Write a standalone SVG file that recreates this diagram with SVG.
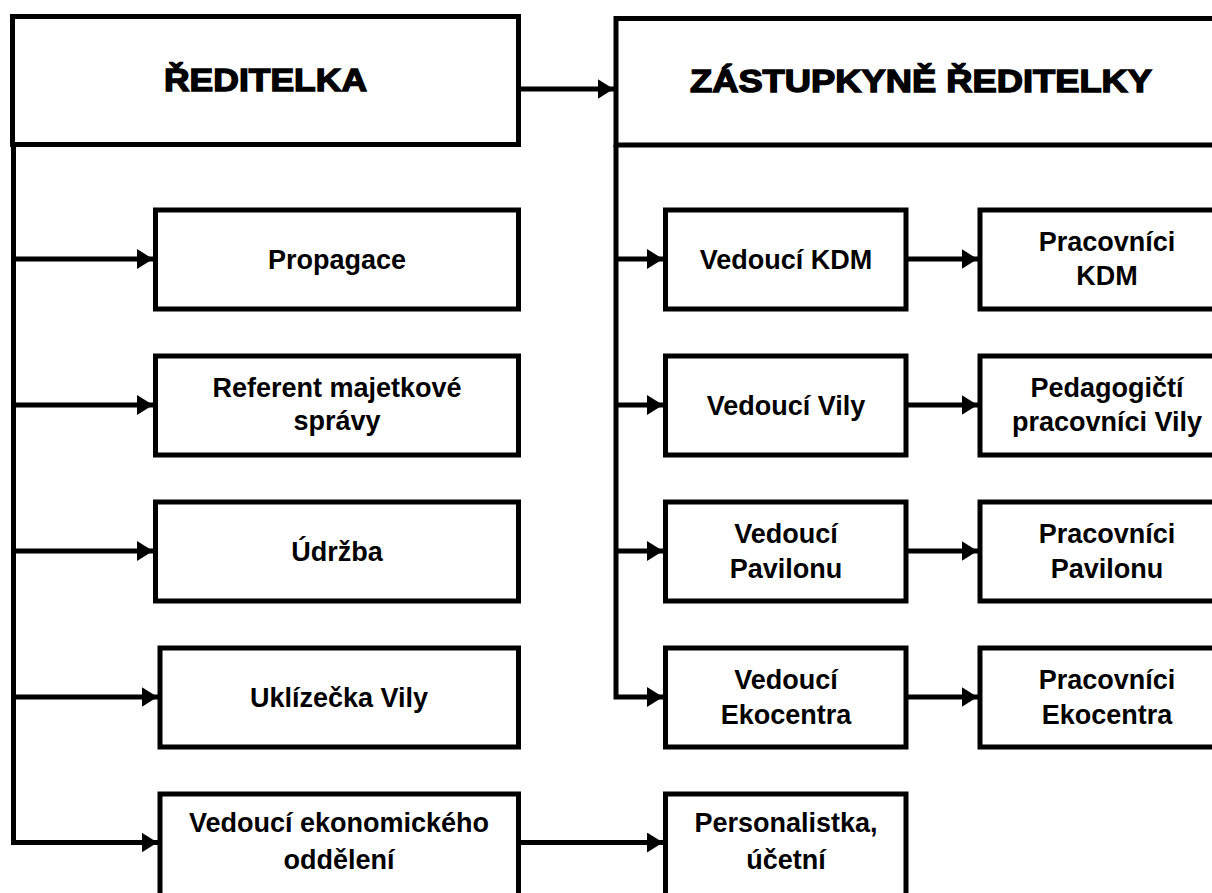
<svg xmlns="http://www.w3.org/2000/svg" width="1212" height="893" viewBox="0 0 1212 893">
<style>
.box{fill:#fff;stroke:#000;stroke-width:5;stroke-linejoin:miter}
.t{font-family:"Liberation Sans",Arial,sans-serif;font-weight:bold;font-size:27px;fill:#000;text-anchor:middle}
.title{font-family:"Liberation Sans",Arial,sans-serif;font-weight:bold;font-size:32px;fill:#000;stroke:#000;stroke-width:1.4;text-anchor:middle}
.ln{fill:none;stroke:#000;stroke-width:5;stroke-linejoin:miter;stroke-linecap:butt}
</style>
<defs>
<marker id="ah" markerUnits="userSpaceOnUse" markerWidth="20" markerHeight="20" refX="18.5" refY="10" orient="auto">
<path d="M0,0 L16,10 L0,20 z" fill="#000"/>
</marker>
</defs>
<rect width="1212" height="893" fill="#fff"/>
<g id="connectors">
<polyline class="ln" points="13.5,144.5 13.5,842.5 160,842.5" marker-end="url(#ah)"/>
<line class="ln" x1="13.5" y1="259" x2="155.5" y2="259" marker-end="url(#ah)"/>
<line class="ln" x1="13.5" y1="405" x2="155.5" y2="405" marker-end="url(#ah)"/>
<line class="ln" x1="13.5" y1="551" x2="155.5" y2="551" marker-end="url(#ah)"/>
<line class="ln" x1="13.5" y1="697" x2="160" y2="697" marker-end="url(#ah)"/>
<line class="ln" x1="518.5" y1="89" x2="616" y2="89" marker-end="url(#ah)"/>
<polyline class="ln" points="616,145 616,697 665.5,697" marker-end="url(#ah)"/>
<line class="ln" x1="616" y1="259" x2="665.5" y2="259" marker-end="url(#ah)"/>
<line class="ln" x1="616" y1="405" x2="665.5" y2="405" marker-end="url(#ah)"/>
<line class="ln" x1="616" y1="551" x2="665.5" y2="551" marker-end="url(#ah)"/>
<line class="ln" x1="906" y1="259" x2="980" y2="259" marker-end="url(#ah)"/>
<line class="ln" x1="906" y1="405" x2="980" y2="405" marker-end="url(#ah)"/>
<line class="ln" x1="906" y1="551" x2="980" y2="551" marker-end="url(#ah)"/>
<line class="ln" x1="906" y1="697" x2="980" y2="697" marker-end="url(#ah)"/>
<line class="ln" x1="518.5" y1="842.5" x2="665.5" y2="842.5" marker-end="url(#ah)"/>
</g>
<g id="reditelka">
<rect class="box" x="12.5" y="16.5" width="506" height="128"/>
<text class="title" x="265.5" y="91" textLength="203" lengthAdjust="spacingAndGlyphs">ŘEDITELKA</text>
</g>
<g id="zastupkyne">
<rect class="box" x="616" y="18.5" width="614" height="126.5"/>
<text class="title" x="921" y="92" textLength="462" lengthAdjust="spacingAndGlyphs">ZÁSTUPKYNĚ ŘEDITELKY</text>
</g>
<g id="propagace">
<rect class="box" x="155.5" y="210" width="363" height="99"/>
<text class="t" x="337" y="269">Propagace</text>
</g>
<g id="referent">
<rect class="box" x="155.5" y="356" width="363" height="99"/>
<text class="t" x="337" y="397">Referent majetkové</text>
<text class="t" x="337" y="430">správy</text>
</g>
<g id="udrzba">
<rect class="box" x="155.5" y="502" width="363" height="99"/>
<text class="t" x="337" y="561">Údržba</text>
</g>
<g id="uklizecka">
<rect class="box" x="160" y="648" width="358.5" height="99"/>
<text class="t" x="339" y="707">Uklízečka Vily</text>
</g>
<g id="vedouci-ekonomickeho">
<rect class="box" x="160" y="794" width="358.5" height="110"/>
<text class="t" x="339" y="832">Vedoucí ekonomického</text>
<text class="t" x="339" y="869">oddělení</text>
</g>
<g id="vedouci-kdm">
<rect class="box" x="665.5" y="210" width="240.5" height="99"/>
<text class="t" x="786" y="269">Vedoucí KDM</text>
</g>
<g id="pracovnici-kdm">
<rect class="box" x="980" y="210" width="254" height="99"/>
<text class="t" x="1107" y="251">Pracovníci</text>
<text class="t" x="1107" y="285">KDM</text>
</g>
<g id="vedouci-vily">
<rect class="box" x="665.5" y="356" width="240.5" height="99"/>
<text class="t" x="786" y="415">Vedoucí Vily</text>
</g>
<g id="pedagogicti-pracovnici">
<rect class="box" x="980" y="356" width="254" height="99"/>
<text class="t" x="1107" y="397">Pedagogičtí</text>
<text class="t" x="1107" y="431">pracovníci Vily</text>
</g>
<g id="vedouci-pavilonu">
<rect class="box" x="665.5" y="502" width="240.5" height="99"/>
<text class="t" x="786" y="543">Vedoucí</text>
<text class="t" x="786" y="578">Pavilonu</text>
</g>
<g id="pracovnici-pavilonu">
<rect class="box" x="980" y="502" width="254" height="99"/>
<text class="t" x="1107" y="543">Pracovníci</text>
<text class="t" x="1107" y="578">Pavilonu</text>
</g>
<g id="vedouci-ekocentra">
<rect class="box" x="665.5" y="648" width="240.5" height="99"/>
<text class="t" x="786" y="689">Vedoucí</text>
<text class="t" x="786" y="724">Ekocentra</text>
</g>
<g id="pracovnici-ekocentra">
<rect class="box" x="980" y="648" width="254" height="99"/>
<text class="t" x="1107" y="689">Pracovníci</text>
<text class="t" x="1107" y="724">Ekocentra</text>
</g>
<g id="personalistka">
<rect class="box" x="665.5" y="794" width="240.5" height="110"/>
<text class="t" x="786" y="832">Personalistka,</text>
<text class="t" x="786" y="869">účetní</text>
</g>
</svg>
